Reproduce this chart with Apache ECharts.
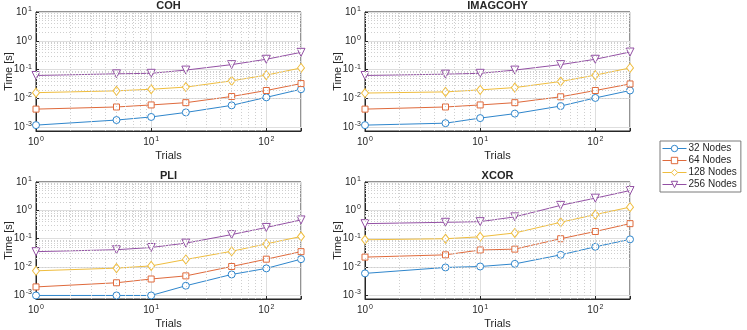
<!DOCTYPE html>
<html lang="en">

  <head>
    <meta charset="UTF-8">
    <title>Time vs trials</title>
    <style>
      html, body {
        margin: 0;
        padding: 0;
        background: #ffffff;
      }
      .chart {
        height: 330px;
        width: 747px;
      }
    </style>
  </head>

  <body>
    <div id="chart" class="chart"></div>

    <script src="https://cdn.jsdelivr.net/npm/echarts@6/dist/echarts.min.js"></script>
    <script type="text/javascript">
      // x values (number of trials), shared by every panel
      var trials = [1, 5, 10, 20, 50, 100, 200];
      var nodeNames = ['32 Nodes', '64 Nodes', '128 Nodes', '256 Nodes'];
      var panelNames = ['COH', 'IMAGCOHY', 'PLI', 'XCOR'];

      // time in seconds, one array per panel and node count
      var coh32 = [0.0012, 0.0018, 0.0023, 0.0033, 0.0058, 0.011, 0.021];
      var coh64 = [0.0043, 0.0051, 0.006, 0.0072, 0.0118, 0.019, 0.033];
      var coh128 = [0.016, 0.0185, 0.021, 0.025, 0.041, 0.065, 0.115];
      var coh256 = [0.063, 0.072, 0.075, 0.097, 0.15, 0.23, 0.40];

      var imag32 = [0.0012, 0.0014, 0.0021, 0.003, 0.0055, 0.0105, 0.019];
      var imag64 = [0.0043, 0.0051, 0.006, 0.0072, 0.0115, 0.019, 0.032];
      var imag128 = [0.0155, 0.017, 0.02, 0.024, 0.039, 0.065, 0.115];
      var imag256 = [0.063, 0.07, 0.075, 0.097, 0.15, 0.23, 0.41];

      var pli32 = [0.001, 0.001, 0.001, 0.0022, 0.0055, 0.009, 0.019];
      var pli64 = [0.002, 0.0028, 0.0038, 0.0049, 0.0105, 0.019, 0.035];
      var pli128 = [0.0074, 0.0092, 0.011, 0.0186, 0.036, 0.066, 0.12];
      var pli256 = [0.035, 0.041, 0.049, 0.07, 0.14, 0.25, 0.46];

      var xcor32 = [0.006, 0.0097, 0.0105, 0.013, 0.027, 0.052, 0.095];
      var xcor64 = [0.0225, 0.027, 0.04, 0.043, 0.10, 0.18, 0.34];
      var xcor128 = [0.092, 0.10, 0.117, 0.16, 0.38, 0.71, 1.3];
      var xcor256 = [0.34, 0.38, 0.40, 0.59, 1.5, 2.7, 5.0];

      var panelData = [
        [coh32, coh64, coh128, coh256],
        [imag32, imag64, imag128, imag256],
        [pli32, pli64, pli128, pli256],
        [xcor32, xcor64, xcor128, xcor256]
      ];

      var lineColors = ['#2f86cc', '#df6a3c', '#efbd3e', '#9350a4'];
      var symbols = ['circle', 'rect', 'diamond', 'triangle'];
      var symbolSizes = [7, 6, [7, 9], 8];
      var symbolRotates = [0, 0, 0, 180];

      var xMin = 1, xMax = 200;
      var yMin = 0.00075, yMax = 10;

      var axisColor = '#262626';
      var fontName = 'Liberation Sans';

      // 10^n tick labels, empty for the odd extent ticks
      function powLabel(v) {
        var e = Math.log10(v);
        var r = Math.round(e);
        if (Math.abs(e - r) > 1e-6) {
          return '';
        }
        return '10{sup|' + r + '}';
      }

      var labelRich = {
        sup: {
          fontSize: 7,
          color: axisColor,
          fontFamily: fontName,
          padding: [0, 0, 6, 1]
        }
      };

      // minor grid positions 2..9 of every decade inside the range
      function minorValues(lo, hi) {
        var out = [];
        for (var d = -4; d <= 2; d++) {
          for (var k = 2; k <= 9; k++) {
            var v = k * Math.pow(10, d);
            if (v > lo * 1.0001 && v < hi * 0.9999) {
              out.push(v);
            }
          }
        }
        return out;
      }

      var gridPos = [
        { left: 36, top: 12 },
        { left: 365, top: 12 },
        { left: 36, top: 182 },
        { left: 365, top: 182 }
      ];
      var gridW = 265, gridH = 119;

      var grids = [], xAxes = [], yAxes = [], titles = [], series = [];

      for (var p = 0; p < 4; p++) {
        grids.push({
          left: gridPos[p].left,
          top: gridPos[p].top,
          width: gridW,
          height: gridH,
          show: true,
          borderColor: axisColor,
          borderWidth: 1,
          backgroundColor: '#ffffff'
        });

        titles.push({
          text: panelNames[p],
          left: gridPos[p].left + gridW / 2,
          top: gridPos[p].top - 12,
          textAlign: 'center',
          padding: 0,
          textStyle: {
            fontSize: 11,
            fontWeight: 'bold',
            color: axisColor,
            fontFamily: fontName
          }
        });

        xAxes.push({
          type: 'log',
          logBase: 10,
          gridIndex: p,
          min: xMin,
          max: xMax,
          name: 'Trials',
          nameLocation: 'middle',
          nameGap: 19,
          nameMoveOverlap: false,
          nameTextStyle: { color: axisColor, fontSize: 11, fontFamily: fontName },
          axisLine: { show: true, lineStyle: { color: axisColor, width: 1 } },
          axisTick: { show: true, inside: true, length: 3, lineStyle: { color: axisColor } },
          axisLabel: {
            show: true,
            color: axisColor,
            fontSize: 10,
            fontFamily: fontName,
            margin: 5,
            formatter: powLabel,
            rich: labelRich
          },
          splitLine: { show: true, lineStyle: { color: '#dedede', width: 1 } },
          minorTick: { show: false },
          minorSplitLine: { show: false }
        });

        yAxes.push({
          type: 'log',
          logBase: 10,
          gridIndex: p,
          min: yMin,
          max: yMax,
          name: 'Time [s]',
          nameLocation: 'middle',
          nameGap: 22,
          nameMoveOverlap: false,
          nameTextStyle: { color: axisColor, fontSize: 11, fontFamily: fontName },
          axisLine: { show: true, lineStyle: { color: axisColor, width: 1 } },
          axisTick: { show: true, inside: true, length: 3, lineStyle: { color: axisColor } },
          axisLabel: {
            show: true,
            color: axisColor,
            fontSize: 10,
            fontFamily: fontName,
            margin: 4,
            formatter: powLabel,
            rich: labelRich
          },
          splitLine: { show: true, lineStyle: { color: '#dedede', width: 1 } },
          minorTick: { show: false },
          minorSplitLine: { show: false }
        });

        // helper series that only carries the dotted minor grid
        var minorLines = [];
        minorValues(xMin, xMax).forEach(function(v) {
          minorLines.push({ xAxis: v });
        });
        minorValues(yMin, yMax).forEach(function(v) {
          minorLines.push({ yAxis: v });
        });
        series.push({
          name: 'minor-grid-' + p,
          type: 'line',
          xAxisIndex: p,
          yAxisIndex: p,
          data: [],
          z: 1,
          silent: true,
          markLine: {
            silent: true,
            symbol: 'none',
            label: { show: false },
            lineStyle: { color: '#cfcfcf', width: 1, type: [1, 2] },
            data: minorLines
          }
        });

        for (var s = 0; s < 4; s++) {
          var values = panelData[p][s];
          series.push({
            name: nodeNames[s],
            type: 'line',
            xAxisIndex: p,
            yAxisIndex: p,
            z: 3,
            symbol: symbols[s],
            symbolSize: symbolSizes[s],
            symbolRotate: symbolRotates[s],
            color: lineColors[s],
            lineStyle: { width: 1, color: lineColors[s] },
            itemStyle: { color: '#ffffff', borderColor: lineColors[s], borderWidth: 1 },
            data: trials.map(function(t, j) {
              return [t, values[j]];
            })
          });
        }
      }

      var myChart = echarts.init(document.getElementById('chart'));

      var option = {
        backgroundColor: '#ffffff',
        animation: false,
        textStyle: { fontFamily: fontName },
        title: titles,
        grid: grids,
        xAxis: xAxes,
        yAxis: yAxes,
        legend: {
          orient: 'vertical',
          left: 660,
          top: 141,
          data: nodeNames,
          itemWidth: 24,
          itemHeight: 8,
          itemGap: 1,
          padding: [2, 4, 2, 2],
          borderColor: '#7a7a7a',
          borderWidth: 1,
          backgroundColor: '#ffffff',
          itemStyle: { borderWidth: 1 },
          lineStyle: { width: 1 },
          textStyle: {
            color: axisColor,
            fontSize: 10,
            lineHeight: 11,
            fontFamily: fontName,
            padding: [0, 0, 0, -3]
          }
        },
        series: series
      };

      myChart.setOption(option);
    </script>
  </body>

</html>
